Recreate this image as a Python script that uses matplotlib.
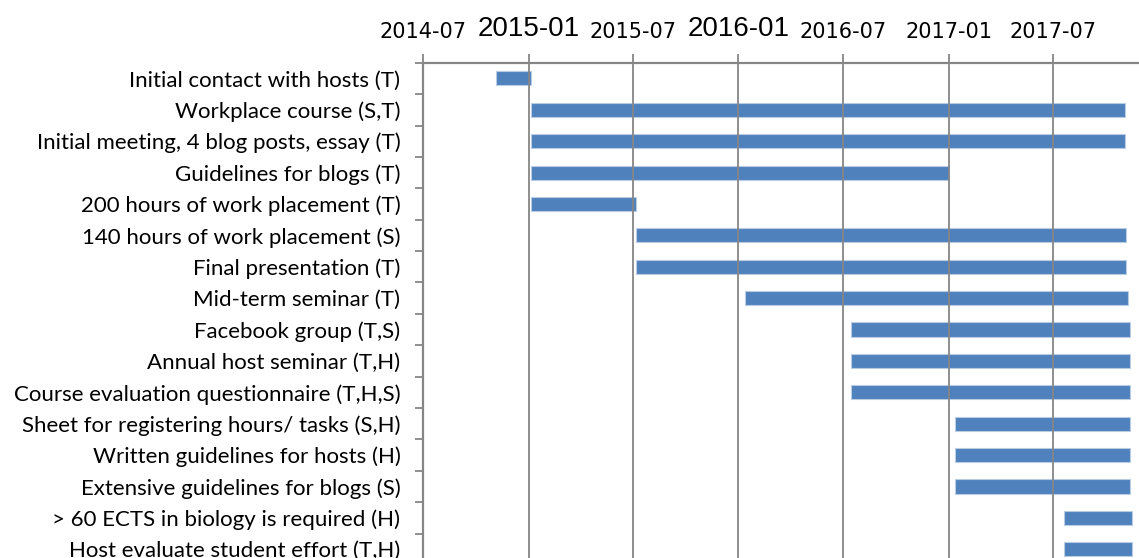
#!/usr/bin/env python3
"""Course activity timeline (Gantt style) with dates on top."""
import matplotlib
matplotlib.use("Agg")
import matplotlib.pyplot as plt
import matplotlib.dates as mdates
from matplotlib.ticker import FixedLocator
import numpy as np
import pandas as pd

tasks = [
    "Initial contact with hosts (T)",
    "Workplace course (S,T)",
    "Initial meeting, 4 blog posts, essay (T)",
    "Guidelines for blogs (T)",
    "200 hours of work placement (T)",
    "140 hours of work placement (S)",
    "Final presentation (T)",
    "Mid-term seminar (T)",
    "Facebook group (T,S)",
    "Annual host seminar (T,H)",
    "Course evaluation questionnaire (T,H,S)",
    "Sheet for registering hours/ tasks (S,H)",
    "Written guidelines for hosts (H)",
    "Extensive guidelines for blogs (S)",
    "> 60 ECTS in biology is required (H)",
    "Host evaluate student effort (T,H)",
]
starts = [
    "2014-11-05", "2015-01-05", "2015-01-05", "2015-01-05", "2015-01-05",
    "2015-07-07", "2015-07-07", "2016-01-12", "2016-07-15", "2016-07-15",
    "2016-07-15", "2017-01-11", "2017-01-11", "2017-01-11", "2017-07-20",
    "2017-07-20",
]
ends = [
    "2015-01-05", "2017-11-04", "2017-11-04", "2017-01-02", "2015-07-07",
    "2017-11-05", "2017-11-05", "2017-11-09", "2017-11-12", "2017-11-12",
    "2017-11-12", "2017-11-12", "2017-11-12", "2017-11-12", "2017-11-15",
    "2017-11-15",
]
tick_dates = ["2014-07-01", "2015-01-01", "2015-07-01", "2016-01-01",
              "2016-07-01", "2017-01-01", "2017-07-01"]
big_ticks = ["2015-01-01", "2016-01-01"]
x_range = ["2014-07-01", "2018-01-01"]

GRID = "#868686"
BAR = "#4F81BD"

s = mdates.date2num(pd.to_datetime(starts))
e = mdates.date2num(pd.to_datetime(ends))
y = np.arange(len(tasks))

fig = plt.figure(figsize=(11.39, 5.58), dpi=100)
ax = fig.add_axes([0.3711, -0.0125, 0.6463, 0.9001])

ax.barh(y, e - s, left=s, height=0.45, color=BAR, edgecolor="#B8CCE4",
        linewidth=0.8, zorder=1)

ax.set_xlim(mdates.date2num(pd.to_datetime(x_range)))
ax.set_ylim(len(tasks) - 0.5, -0.5)

# dates on top
ax.xaxis.tick_top()
tick_nums = mdates.date2num(pd.to_datetime(tick_dates))
ax.set_xticks(tick_nums)
ax.set_xticklabels([d[:7] for d in tick_dates])
ax.tick_params(axis="x", which="major", length=6.5, width=1.3, color=GRID,
               pad=8.5)
for tick, d in zip(ax.xaxis.get_major_ticks(), tick_dates):
    if d in big_ticks:
        tick.label2.set_fontfamily("Liberation Sans")
        tick.label2.set_fontsize(20)
    else:
        tick.label2.set_fontfamily("DejaVu Sans")
        tick.label2.set_fontsize(15)
ax.grid(axis="x", color=GRID, linewidth=1.3)
ax.set_axisbelow(False)

# categories, with tick marks between them
ax.set_yticks(y)
ax.set_yticklabels(tasks, fontfamily="Lato", fontsize=16)
ax.yaxis.set_minor_locator(FixedLocator(np.arange(len(tasks) + 1) - 0.5))
ax.tick_params(axis="y", which="major", length=0, pad=16)
ax.tick_params(axis="y", which="minor", length=5.5, width=1.3, color=GRID)

for side in ("right", "bottom"):
    ax.spines[side].set_visible(False)
for side in ("top", "left"):
    ax.spines[side].set_color(GRID)
    ax.spines[side].set_linewidth(1.6)

fig.savefig("out.png", dpi=100)
